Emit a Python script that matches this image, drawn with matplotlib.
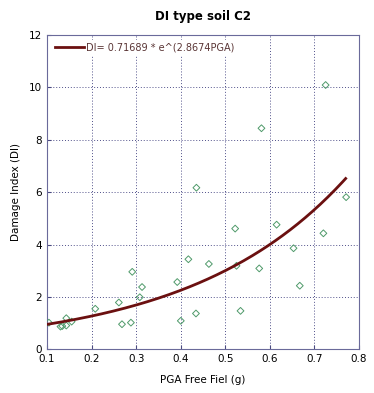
#DI vs PGA scatter with exponential fit for soil type C2
import numpy as np
import matplotlib
matplotlib.use("Agg")
import matplotlib.pyplot as plt

#data
pga = [0.104, 0.130, 0.134, 0.143, 0.143, 0.155, 0.208, 0.261, 0.268, 0.288,
       0.291, 0.308, 0.313, 0.392, 0.400, 0.417, 0.434, 0.435, 0.463, 0.522,
       0.525, 0.534, 0.576, 0.581, 0.615, 0.653, 0.667, 0.720, 0.725, 0.771]
di = [1.02, 0.87, 0.89, 1.19, 0.91, 1.06, 1.55, 1.79, 0.96, 1.02,
      2.96, 1.99, 2.38, 2.57, 1.09, 3.44, 1.37, 6.17, 3.26, 4.61,
      3.19, 1.47, 3.09, 8.44, 4.76, 3.86, 2.43, 4.43, 10.09, 5.81]

#fit coefficients from the legend
a, b = 0.71689, 2.8674
fitRange = [0.1, 0.77]

fig = plt.figure(figsize=(3.74, 3.93), dpi=100)
ax = fig.add_axes([0.126, 0.111, 0.834, 0.8])

x = np.linspace(fitRange[0], fitRange[1], 200)
ax.scatter(pga, di, marker="D", s=12, facecolors="none", edgecolors="#4f9a6a",
           linewidths=0.7, zorder=3)
ax.plot(x, a*np.exp(b*x), color="#6b1010", lw=2, zorder=4,
        label="DI= 0.71689 * e^(2.8674PGA)")

ax.set_xlim(0.1, 0.8)
ax.set_ylim(0, 12)
ax.set_xticks(np.arange(0.1, 0.81, 0.1))
ax.set_xticklabels(["0.1", "0.2", "0.3", "0.4", "0.5", "0.6", "0.7", "0.8"])
ax.set_yticks([0, 2, 4, 6, 8, 10, 12])
ax.tick_params(labelsize=7.5, length=3, direction="in", color="#4a4a80")
ax.grid(True, linestyle=(0, (1, 2)), color="#50508a", lw=0.7)
for s in ax.spines.values():
    s.set_color("#6a6a9a")

ax.set_title("DI type soil C2", fontsize=8.5, fontweight="bold", pad=11)
ax.set_xlabel("PGA Free Fiel (g)", fontsize=7.5, labelpad=8)
ax.set_ylabel("Damage Index (DI)", fontsize=7.5, labelpad=6)

leg = ax.legend(loc="upper left", fontsize=7, frameon=True, fancybox=False,
                handlelength=3.0, borderaxespad=0.5, handletextpad=0.2,
                borderpad=0.3)
leg.get_frame().set_edgecolor("none")
leg.get_frame().set_alpha(1)
for t in leg.get_texts():
    t.set_color("#5a3535")

fig.savefig("out.png", dpi=100)
